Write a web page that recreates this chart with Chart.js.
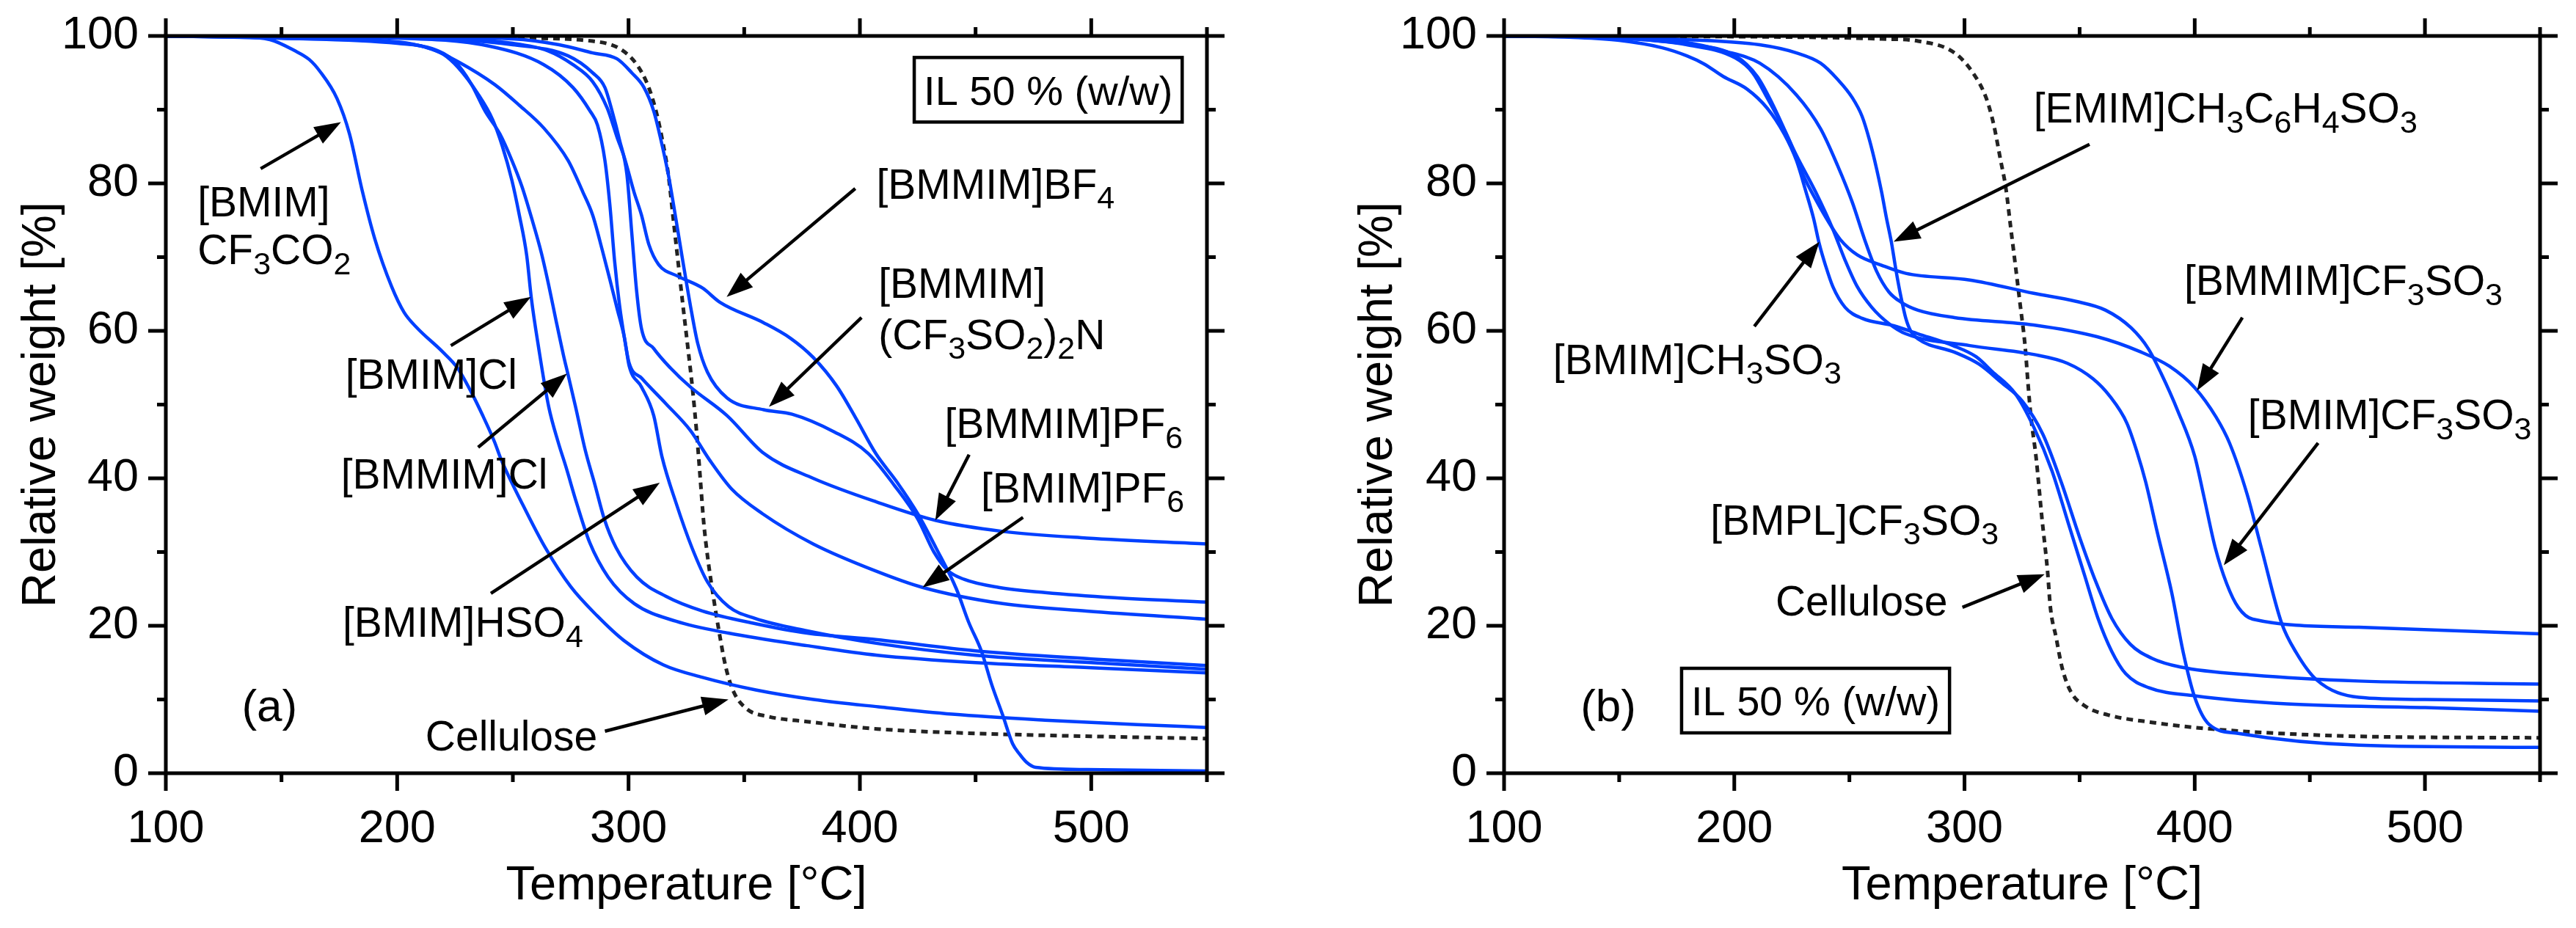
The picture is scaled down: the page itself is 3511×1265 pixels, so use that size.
<!DOCTYPE html>
<html>
<head>
<meta charset="utf-8">
<script src="https://cdn.jsdelivr.net/npm/chart.js@4.4.1/dist/chart.umd.min.js"></script>
<style>
  body { margin: 0; background: #fff; }
  .panel { position: absolute; top: 0; }
</style>
</head>
<body>
<div class="panel" style="left:0"><canvas id="chartA" width="1755" height="1265"></canvas></div>
<div class="panel" style="left:1755px"><canvas id="chartB" width="1756" height="1265"></canvas></div>
<script>
// ---- data: [temperature °C, relative weight %] ----

// panel (a)
const aBmimCF3CO2 = [[100,100],[130,99.9],[145,99.5],[155.7,98],[162,96.8],[166.6,95.2],[174,91.5],[179.4,86.7],[184.9,79],[190.3,72.5],[197.6,66],[203,62.5],[208.6,60.4],[219.5,57.2],[226,55],[232,51.7],[237,48.5],[242,45],[245,42.5],[254,36.6],[264,30.6],[275,25.3],[286.6,21.3],[298,18],[315,14.7],[332,13],[355,11.3],[380,10],[408,9],[440,8],[480,7.2],[520,6.6],[550,6.2]];
const aBmimCl = [[100,100],[150,99.7],[200,99.1],[212,98.5],[220,97.5],[226.4,95.7],[234.8,92.2],[241.2,88.7],[245.4,85.1],[249.6,80.4],[252.8,75.7],[256,70.2],[258,64.4],[261.2,57.6],[265.5,49.7],[269.5,45],[273,41.5],[277.6,36.6],[283.2,31.3],[291.2,26.6],[302.5,23],[320.6,20.6],[343.2,19],[377.2,17.3],[407.6,16],[450,15],[500,14.3],[550,13.6]];
const aBmmimCl = [[100,100],[150,99.7],[200,99],[215,98.3],[225,96.5],[232,93.5],[238,89.8],[244.4,86.7],[249.6,83.1],[253.9,79.6],[258.1,75.3],[262.3,70.6],[265.5,66.2],[268.6,61.5],[271.8,56.8],[273.9,54],[277.1,49.7],[281.3,43.8],[285.5,39.1],[289.5,34.5],[294.6,30.6],[303.6,26.6],[316.1,24],[331.9,22],[354.6,20.3],[377.2,19],[407.6,18.1],[450,16.6],[500,15.5],[550,14.6]];
const aBmimHSO4 = [[100,100],[150,99.7],[200,99.2],[215,98.2],[226.4,96.5],[242.2,93.4],[252.8,90.6],[263.4,87.5],[273.9,83.1],[280.3,78.8],[284.5,75.7],[288.7,70.9],[291.9,67],[295,63.1],[298.2,59.1],[300.3,55.2],[305.6,52.4],[310.9,48.5],[314.4,43],[320.6,36.6],[327.4,30.6],[334.2,25.9],[343.2,22.6],[354.6,21],[377.2,19.3],[407.6,17.6],[450,16],[500,15],[550,14.1]];
const aBmmimPF6 = [[100,100],[200,99.8],[250,98.8],[273.9,97.3],[284.5,95],[289.8,93],[292.9,89.8],[296.1,85.9],[299.3,81.2],[301.4,73.3],[303.5,65.4],[305.6,60.3],[310.9,57.6],[318,55],[326.7,52.4],[342.6,48.5],[358.4,43.4],[379.8,40],[407.1,36.8],[432.6,34.3],[461.7,32.8],[498,31.9],[550,31.1]];
const aBmimPF6 = [[100,100],[200,99.7],[240,98.6],[263.4,96.1],[276,93],[283.4,89.8],[286.6,87.9],[289.8,83.1],[291.9,77.2],[294,69.4],[296.1,63.5],[298.2,59.1],[300.3,55.6],[305.6,53.6],[316.2,50.1],[326.7,46.5],[335,42.5],[344.7,38.5],[357.9,35.2],[379.8,31.1],[407.1,27.4],[427.1,25.2],[461.7,23],[498,22],[550,20.9]];
const aBmmimBF4 = [[100,100],[200,99.9],[250,99],[265,98],[276,96.1],[284.5,93.8],[290.8,90.2],[295,86.3],[298.2,83.5],[302.4,78.8],[305.6,75.7],[308.8,71.7],[313,69],[321.4,67.4],[332,65.8],[339.4,63.9],[358.4,61.1],[370,59],[379.8,56.4],[390,52.5],[398,48.3],[407,43.3],[416,39.5],[425,35.2],[433,30.5],[441.7,25],[447,20.5],[452.6,16.5],[457,12],[461.7,7.9],[466,4],[469,2.6],[472,1.5],[476,0.8],[498,0.5],[550,0.3]];
const aBmmimTFSI = [[100,100],[200,99.9],[250,99.6],[270,98.8],[284.5,97.7],[295,96.9],[301.4,95],[306.7,93],[310.9,89.8],[314,85.9],[317.2,81.2],[320.4,75.3],[323.5,69.4],[326.7,63.5],[329.9,58.3],[334.1,54.4],[342.6,50.9],[358.4,49.3],[370.7,48.7],[388.9,46.3],[403.5,43.4],[415,39],[425,34.5],[432,30],[438,27.5],[445,26.3],[460,25.2],[480,24.5],[510,23.8],[550,23.2]];
const aCellulose = [[100,100],[200,99.9],[252.8,99.7],[284.5,99.3],[300.3,97.3],[307.7,93.8],[311.9,89.8],[315.1,85.1],[317.2,81.2],[319.3,75.3],[321.4,69.4],[323.5,63.5],[325.7,57.6],[327.8,51.7],[329.5,46],[331,40],[332.5,34],[334.2,29.3],[336.5,24.3],[338.7,20],[342.1,14.3],[345.5,11],[351.2,8.7],[360.2,7.7],[377.2,7],[407.6,6],[450,5.4],[500,5],[550,4.7]];

// panel (b)
const bBmimCH3SO3 = [[100,100],[130,99.8],[150,99.4],[168.7,98.4],[179.4,97.3],[186.9,96.2],[195.2,94.5],[205.5,92.8],[214.3,90.2],[221.7,86.7],[227,83.1],[231.2,78.8],[234.4,75.3],[237,71.7],[239.6,68.9],[242.8,66],[248.1,63.2],[255.5,61.7],[269.2,60.7],[279.8,59.6],[295,58],[305,56.5],[312,54.5],[322,51.5],[330,47],[338,41],[345,34],[352,27],[358,21],[364,16.5],[370,13.5],[380,11.6],[400,10.5],[440,9.4],[500,8.9],[550,8.4]];
const bEmimTos = [[100,100],[150,99.8],[179.4,99.5],[211,98.8],[227,97.7],[237.5,96.3],[244.9,94.1],[251.3,91.6],[255.5,89.1],[258.7,85.9],[261.8,82],[264,78.8],[266.1,75.3],[268.2,72.1],[270.3,68.1],[272.4,64.6],[274.5,61.7],[276.6,60],[279.8,58.9],[295.7,57.1],[306.2,55.5],[316,53],[325,50.5],[334,46],[342,39.5],[350,32],[357,26],[364,21],[372,17.5],[381.3,15.6],[393.8,14.4],[425.2,13.3],[471.3,12.5],[550,12.1]];
const bBmplOTf = [[100,100],[150,99.7],[179.4,98.9],[200.5,97.3],[210,94.5],[216.4,90.9],[227,83.8],[235.4,78.8],[242.8,73.8],[248.1,69.6],[253.4,66],[259.7,63.2],[267.1,61],[274.5,59.6],[302.3,58],[330,56.8],[344.7,55.6],[355.8,53.5],[363.2,51.1],[370.5,47.5],[375,43.5],[378.7,39.5],[383.8,32.6],[390,24.5],[395,16.4],[400,10.3],[406.3,6.6],[418.9,5.4],[471.3,3.8],[550,3.5]];
const bBmmimOTf = [[100,100],[150,99.8],[179.4,99.1],[195,98],[211.1,96.3],[227,92],[237.5,87.4],[244.9,82.4],[251.3,77.4],[256.6,72.4],[261.8,68.1],[267.1,65.3],[272.4,63.9],[279.8,62.8],[295.7,61.8],[330,60.8],[357.6,59.2],[376.1,57.2],[389,55.2],[400,52.3],[409.3,48.3],[415.1,44.8],[422.7,37.9],[428.9,30.6],[437.7,20.4],[444,16.4],[452.8,12.7],[471.3,10.3],[500,10],[550,9.8]];
const bBmimOTf = [[100,100],[150,99.7],[179.4,98.8],[200.5,97],[208,95],[214.3,91.6],[223.8,85.9],[230.1,81],[235.4,77.8],[240.7,74.9],[246,72.4],[253.4,70.3],[264,68.9],[274.5,67.8],[302.3,66.9],[330,65.1],[348.4,64],[361.3,62.8],[372.4,60.4],[379.8,57.6],[385.3,54.3],[392.7,49.1],[400,43],[404,37.5],[408.9,30.6],[413.9,25.7],[418.9,22.5],[425.2,20.9],[471.3,19.8],[550,18.9]];
const bCellulose = [[100,100],[237.5,99.8],[264,99.6],[279.8,99.3],[295.7,97.7],[304.1,94.8],[309.4,91.6],[312.6,88.1],[315.7,83.1],[317.9,79.5],[320,74.2],[322.1,68.9],[324.2,63.5],[326.3,58],[327.6,52.8],[328.8,48.5],[331.1,42.8],[333.6,34.7],[336.1,27.3],[337.3,22.5],[339.8,18.4],[342.4,14.3],[346.1,11.1],[352.4,9.1],[362.4,7.9],[381.3,6.9],[400,6.2],[425.2,5.6],[471.3,5],[550,4.8]];

// axis ticks
const xMajor = [100, 200, 300, 400, 500];
const xMinor = [150, 250, 350, 450, 550];
const yMajor = [0, 20, 40, 60, 80, 100];
const yMinor = [10, 30, 50, 70, 90];

// ---- annotations (data coordinates; _{..} = subscript) ----
const labelsA = [
  { t: '[BMIM]', x: 113.7, y: 77.6 },
  { t: 'CF_{3}CO_{2}', x: 113.7, y: 71.1 },
  { t: '[BMIM]Cl', x: 177.6, y: 54.2 },
  { t: '[BMMIM]Cl', x: 175.7, y: 40.6 },
  { t: '[BMIM]HSO_{4}', x: 176.4, y: 20.5 },
  { t: 'Cellulose', x: 212.2, y: 5.1 },
  { t: '[BMMIM]BF_{4}', x: 407.1, y: 80 },
  { t: '[BMMIM]', x: 408, y: 66.5 },
  { t: '(CF_{3}SO_{2})_{2}N', x: 408, y: 59.6 },
  { t: '[BMMIM]PF_{6}', x: 436.6, y: 47.5 },
  { t: '[BMIM]PF_{6}', x: 452.3, y: 38.8 },
  { t: '(a)', x: 132.8, y: 9.3, big: true }
];
const arrowsA = [
  [[141, 82], [175.7, 88.3]],
  [[223.2, 58], [257.8, 64.6]],
  [[235, 44.2], [273.4, 54.2]],
  [[240.5, 24.4], [313.5, 39.4]],
  [[289.8, 5.7], [343.2, 10]],
  [[398, 79.3], [342.4, 64.6]],
  [[400.7, 61.8], [360.7, 49.7]],
  [[447.2, 43.2], [432.6, 34.3]],
  [[470.5, 34.7], [427.1, 25.2]]
];
const boxA = { t: 'IL 50 % (w/w)', x: 481.4, y: 92.7 };

const labelsB = [
  { t: '[EMIM]CH_{3}C_{6}H_{4}SO_{3}', x: 330, y: 90.3 },
  { t: '[BMMIM]CF_{3}SO_{3}', x: 395.4, y: 66.9 },
  { t: '[BMIM]CF_{3}SO_{3}', x: 423.1, y: 48.7 },
  { t: '[BMIM]CH_{3}SO_{3}', x: 121.3, y: 56.2 },
  { t: '[BMPL]CF_{3}SO_{3}', x: 189.6, y: 34.4 },
  { t: 'Cellulose', x: 217.9, y: 23.4 },
  { t: '(b)', x: 133.2, y: 9.3, big: true }
];
const arrowsB = [
  [[354.3, 85.3], [269.2, 72.1]],
  [[420.7, 61.8], [401, 51.9]],
  [[453.6, 44.8], [412.6, 28.2]],
  [[208.7, 60.6], [237, 72.1]],
  [[299.1, 22.5], [334.8, 27]]
];
const boxB = { t: 'IL 50 % (w/w)', x: 235.3, y: 9.85 };

// ---- drawing ----
const FONT = "'Liberation Sans', Arial, Helvetica, sans-serif";
const BLUE = '#0040ff';
Chart.defaults.font.family = FONT;
Chart.defaults.color = '#000';

const toXY = pts => pts.map(([x, y]) => ({ x, y }));

// text with subscripts, y = centre of capitals
function drawRich(ctx, str, x, y, size) {
  const base = y + size * 0.36;
  let cx = x;
  str.split(/(_\{[^}]*\})/).forEach(part => {
    if (!part) return;
    const sub = part.startsWith('_{');
    const s = sub ? part.slice(2, -1) : part;
    ctx.font = `${sub ? Math.round(size * 0.75) : size}px ${FONT}`;
    ctx.fillText(s, cx, sub ? base + size * 0.24 : base);
    cx += ctx.measureText(s).width;
  });
}

function drawArrow(ctx, x1, y1, x2, y2) {
  const a = Math.atan2(y2 - y1, x2 - x1);
  const head = 36, half = 13;
  const bx = x2 - head * Math.cos(a), by = y2 - head * Math.sin(a);
  ctx.lineWidth = 4.5;
  ctx.beginPath(); ctx.moveTo(x1, y1); ctx.lineTo(bx + 2 * Math.cos(a), by + 2 * Math.sin(a)); ctx.stroke();
  ctx.beginPath();
  ctx.moveTo(x2, y2);
  ctx.lineTo(bx + half * Math.sin(a), by - half * Math.cos(a));
  ctx.lineTo(bx - half * Math.sin(a), by + half * Math.cos(a));
  ctx.closePath(); ctx.fill();
}

function framePlugin(labels, arrows, box) {
  return {
    id: 'frame',
    afterDraw(chart) {
      const { ctx, chartArea: ar, scales: { x, y } } = chart;
      ctx.save();
      ctx.strokeStyle = '#000';
      ctx.fillStyle = '#000';
      ctx.lineCap = 'butt';
      const seg = (x1, y1, x2, y2) => { ctx.beginPath(); ctx.moveTo(x1, y1); ctx.lineTo(x2, y2); ctx.stroke(); };

      // frame + ticks on all four sides, pointing out
      ctx.lineWidth = 5;
      ctx.strokeRect(ar.left, ar.top, ar.right - ar.left, ar.bottom - ar.top);
      [[xMajor, 24], [xMinor, 12]].forEach(([vals, len]) => vals.forEach(v => {
        const px = x.getPixelForValue(v);
        seg(px, ar.bottom, px, ar.bottom + len);
        seg(px, ar.top, px, ar.top - len);
      }));
      [[yMajor, 24], [yMinor, 12]].forEach(([vals, len]) => vals.forEach(v => {
        const py = y.getPixelForValue(v);
        seg(ar.left, py, ar.left - len, py);
        seg(ar.right, py, ar.right + len, py);
      }));

      // arrows
      arrows.forEach(([p, q]) => drawArrow(ctx,
        x.getPixelForValue(p[0]), y.getPixelForValue(p[1]),
        x.getPixelForValue(q[0]), y.getPixelForValue(q[1])));

      // labels
      ctx.textAlign = 'left';
      ctx.textBaseline = 'alphabetic';
      labels.forEach(l => drawRich(ctx, l.t, x.getPixelForValue(l.x), y.getPixelForValue(l.y), l.big ? 62 : 57));

      // boxed note
      ctx.font = `56px ${FONT}`;
      const w = ctx.measureText(box.t).width + 26, h = 88;
      const cx = x.getPixelForValue(box.x), cy = y.getPixelForValue(box.y);
      ctx.lineWidth = 4.5;
      ctx.strokeRect(cx - w / 2, cy - h / 2, w, h);
      ctx.textAlign = 'center';
      ctx.fillText(box.t, cx, cy + 56 * 0.36);
      ctx.restore();
    }
  };
}

function buildChart(id, curves, cellulose, cfg) {
  const datasets = curves.map(c => ({
    data: toXY(c), borderColor: BLUE, borderWidth: 4.5, pointRadius: 0,
    cubicInterpolationMode: 'monotone', fill: false
  }));
  datasets.push({
    data: toXY(cellulose), borderColor: '#222', borderWidth: 5, borderDash: [9, 7],
    pointRadius: 0, cubicInterpolationMode: 'monotone', fill: false
  });

  return new Chart(document.getElementById(id), {
    type: 'line',
    data: { datasets },
    options: {
      responsive: false,
      animation: false,
      devicePixelRatio: 1,
      layout: { autoPadding: false, padding: { left: 0, right: cfg.padRight, top: 49, bottom: 0 } },
      plugins: { legend: { display: false }, tooltip: { enabled: false } },
      scales: {
        x: {
          type: 'linear', min: 100, max: 550,
          grid: { display: false, drawTicks: false }, border: { display: false },
          afterBuildTicks: s => { s.ticks = xMajor.map(v => ({ value: v })); },
          afterFit: s => { s.height = 211; s.paddingLeft = 0; s.paddingRight = 0; },
          ticks: { font: { size: 63 }, padding: 39, maxRotation: 0, autoSkip: false },
          title: { display: true, text: 'Temperature [°C]', font: { size: 65 }, padding: { top: 0, bottom: 18 } }
        },
        y: {
          type: 'linear', min: 0, max: 100,
          grid: { display: false, drawTicks: false }, border: { display: false },
          afterBuildTicks: s => { s.ticks = yMajor.map(v => ({ value: v })); },
          afterFit: s => { s.width = cfg.yWidth; s.paddingTop = 0; s.paddingBottom = 0; },
          ticks: { font: { size: 63 }, padding: 37, autoSkip: false },
          title: { display: true, text: 'Relative weight [%]', font: { size: 65 }, padding: { top: cfg.yTitlePad, bottom: 0 } }
        }
      }
    },
    plugins: [framePlugin(cfg.labels, cfg.arrows, cfg.box)]
  });
}

buildChart('chartA',
  [aBmimCF3CO2, aBmimCl, aBmmimCl, aBmimHSO4, aBmmimPF6, aBmimPF6, aBmmimBF4, aBmmimTFSI],
  aCellulose,
  { padRight: 110, yWidth: 226, yTitlePad: 18, labels: labelsA, arrows: arrowsA, box: boxA });

buildChart('chartB',
  [bBmimCH3SO3, bEmimTos, bBmplOTf, bBmmimOTf, bBmimOTf],
  bCellulose,
  { padRight: 49, yWidth: 295, yTitlePad: 85, labels: labelsB, arrows: arrowsB, box: boxB });
</script>
</body>
</html>
